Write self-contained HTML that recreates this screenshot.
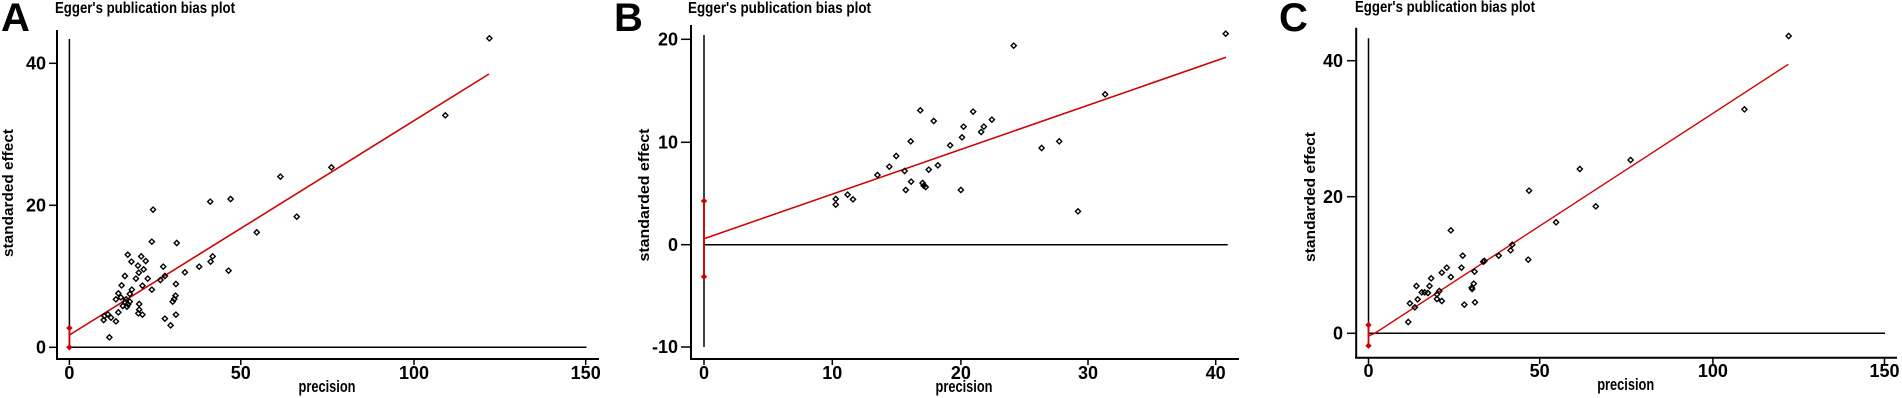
<!DOCTYPE html>
<html><head><meta charset="utf-8"><style>
html,body{margin:0;padding:0;background:#fff;}
svg{display:block;}
text{font-family:"Liberation Sans Narrow","Liberation Sans",sans-serif;font-weight:bold;fill:#000;}
.yl{font-family:"Liberation Sans",sans-serif;}
.big{font-family:"Liberation Sans",sans-serif;font-size:40px;}
</style></head><body>
<svg id="s" width="1902" height="398" viewBox="0 0 1902 398" xmlns="http://www.w3.org/2000/svg">
<!-- Panel A -->
<text class="big" x="1" y="31">A</text>
<text x="55" y="13" font-size="16" textLength="180" lengthAdjust="spacingAndGlyphs">Egger's publication bias plot</text>
<line x1="57" y1="30" x2="57" y2="359" stroke="#000" stroke-width="2"/>
<line x1="56" y1="359" x2="599" y2="359" stroke="#000" stroke-width="2"/>
<g stroke="#000" stroke-width="1.5">
<line x1="49" y1="63.3" x2="57" y2="63.3"/><line x1="49" y1="205.3" x2="57" y2="205.3"/><line x1="49" y1="347.3" x2="57" y2="347.3"/>
<line x1="69.4" y1="359" x2="69.4" y2="365"/><line x1="240.8" y1="359" x2="240.8" y2="365"/><line x1="414" y1="359" x2="414" y2="365"/><line x1="585.7" y1="359" x2="585.7" y2="365"/>
<line x1="69.4" y1="39" x2="69.4" y2="347.3"/><line x1="69.4" y1="347.3" x2="586.5" y2="347.3"/>
</g>
<g font-size="18" text-anchor="end"><text x="46" y="69.5">40</text><text x="46" y="211.5">20</text><text x="46" y="353.5">0</text></g>
<g font-size="18" text-anchor="middle"><text x="69.4" y="379">0</text><text x="240.8" y="379">50</text><text x="414" y="379">100</text><text x="585.7" y="379">150</text></g>
<text x="327" y="392" font-size="17" text-anchor="middle" textLength="57" lengthAdjust="spacingAndGlyphs">precision</text>
<text class="yl" transform="translate(13,193) rotate(-90)" font-size="15" text-anchor="middle" textLength="128" lengthAdjust="spacingAndGlyphs">standarded effect</text>
<line x1="69.4" y1="335" x2="489" y2="74" stroke="#d00000" stroke-width="1.6"/>
<line x1="69.4" y1="347.3" x2="69.4" y2="328" stroke="#d00000" stroke-width="1.8"/>

<!-- Panel B -->
<text class="big" x="614" y="31">B</text>
<text x="688" y="13" font-size="16" textLength="183" lengthAdjust="spacingAndGlyphs">Egger's publication bias plot</text>
<line x1="691" y1="25" x2="691" y2="359" stroke="#000" stroke-width="2"/>
<line x1="690" y1="359" x2="1239" y2="359" stroke="#000" stroke-width="2"/>
<g stroke="#000" stroke-width="1.5">
<line x1="681" y1="39.3" x2="691" y2="39.3"/><line x1="681" y1="142.3" x2="691" y2="142.3"/><line x1="681" y1="244.7" x2="691" y2="244.7"/><line x1="681" y1="347" x2="691" y2="347"/>
<line x1="704" y1="359" x2="704" y2="365"/><line x1="832.3" y1="359" x2="832.3" y2="365"/><line x1="960.9" y1="359" x2="960.9" y2="365"/><line x1="1088" y1="359" x2="1088" y2="365"/><line x1="1215.7" y1="359" x2="1215.7" y2="365"/>
<line x1="704" y1="35" x2="704" y2="347"/><line x1="704" y1="244.7" x2="1227.7" y2="244.7"/>
</g>
<g font-size="18" text-anchor="end"><text x="678" y="45.5">20</text><text x="678" y="148.5">10</text><text x="678" y="251">0</text><text x="678" y="353">-10</text></g>
<g font-size="18" text-anchor="middle"><text x="704" y="379">0</text><text x="832.3" y="379">10</text><text x="960.9" y="379">20</text><text x="1088" y="379">30</text><text x="1215.7" y="379">40</text></g>
<text x="964" y="392" font-size="17" text-anchor="middle" textLength="57" lengthAdjust="spacingAndGlyphs">precision</text>
<text class="yl" transform="translate(649,195) rotate(-90)" font-size="15" text-anchor="middle" textLength="133" lengthAdjust="spacingAndGlyphs">standarded effect</text>
<line x1="704" y1="238.7" x2="1226" y2="57.3" stroke="#d00000" stroke-width="1.6"/>
<line x1="704" y1="201" x2="704" y2="276.7" stroke="#d00000" stroke-width="1.8"/>

<!-- Panel C -->
<text class="big" x="1279" y="31">C</text>
<text x="1355" y="12" font-size="16" textLength="180" lengthAdjust="spacingAndGlyphs">Egger's publication bias plot</text>
<line x1="1356.2" y1="27.7" x2="1356.2" y2="357.7" stroke="#000" stroke-width="2"/>
<line x1="1355" y1="357.7" x2="1897" y2="357.7" stroke="#000" stroke-width="2"/>
<g stroke="#000" stroke-width="1.5">
<line x1="1347" y1="60.7" x2="1356" y2="60.7"/><line x1="1347" y1="196.7" x2="1356" y2="196.7"/><line x1="1347" y1="333.3" x2="1356" y2="333.3"/>
<line x1="1368.5" y1="357.7" x2="1368.5" y2="364"/><line x1="1539.7" y1="357.7" x2="1539.7" y2="364"/><line x1="1712.9" y1="357.7" x2="1712.9" y2="364"/><line x1="1884.5" y1="357.7" x2="1884.5" y2="364"/>
<line x1="1368.5" y1="38.3" x2="1368.5" y2="333.3"/><line x1="1368.5" y1="333.3" x2="1885" y2="333.3"/>
</g>
<g font-size="18" text-anchor="end"><text x="1343" y="67">40</text><text x="1343" y="203">20</text><text x="1343" y="339.5">0</text></g>
<g font-size="18" text-anchor="middle"><text x="1368.5" y="377">0</text><text x="1539.7" y="377">50</text><text x="1712.9" y="377">100</text><text x="1884.5" y="377">150</text></g>
<text x="1625.7" y="390" font-size="17" text-anchor="middle" textLength="57" lengthAdjust="spacingAndGlyphs">precision</text>
<text class="yl" transform="translate(1315,197) rotate(-90)" font-size="15" text-anchor="middle" textLength="130" lengthAdjust="spacingAndGlyphs">standarded effect</text>
<line x1="1374.7" y1="333.3" x2="1788.3" y2="64.3" stroke="#d00000" stroke-width="1.4"/>
<line x1="1368.5" y1="325" x2="1368.5" y2="345.7" stroke="#d00000" stroke-width="1.8"/>
<line x1="1368.5" y1="336" x2="1374.7" y2="333.3" stroke="#d00000" stroke-width="1.4"/>

<g id="pts" fill="none" stroke="#000" stroke-width="1.4"></g>
<g id="red" fill="#d00000" stroke="#d00000" stroke-width="1"></g>
</svg>
<script>
(function(){
var A=[[1199,115],[1091,346],[812,502],[687,530],[565,597],[515,605],[375,629],[727,650],[629,697],[372,725],[433,729],[313,764],[346,769],[357,783],[322,785],[338,797],[488,800],[400,800],[516,785],[521,769],[352,808],[560,812],[453,817],[306,828],[340,818],[333,836],[362,836],[404,828],[393,840],[298,856],[431,852],[349,857],[323,869],[372,869],[290,880],[318,882],[284,898],[296,892],[309,898],[314,913],[341,912],[301,918],[311,920],[290,937],[341,929],[349,944],[339,940],[430,887],[427,897],[423,905],[431,944],[404,956],[418,976],[256,948],[264,943],[254,960],[272,953],[284,964],[268,1012],[306,906],[318,905]];
var B=[[1290,137],[1529,283],[1046,331],[1184,335],[1081,363],[1233,359],[1212,380],[1159,380],[1205,396],[1155,412],[1021,424],[1124,436],[1409,424],[1363,444],[983,468],[965,500],[1092,496],[1005,513],[1068,509],[934,525],[1022,545],[1055,557],[1060,561],[1052,549],[1008,570],[1152,570],[856,584],[870,598],[825,597],[825,614],[1458,634]];
var C=[[1291,108],[1183,328],[905,480],[781,507],[657,572],[820,619],[723,667],[466,691],[616,734],[612,751],[583,767],[495,767],[655,779],[548,783],[545,785],[456,803],[492,803],[524,815],[444,818],[418,835],[466,831],[522,851],[517,863],[518,867],[382,858],[414,858],[395,877],[402,877],[410,879],[432,883],[438,873],[432,897],[444,903],[385,898],[366,910],[378,922],[525,907],[499,914],[362,966]];
var g=document.getElementById('pts'),ns='http://www.w3.org/2000/svg';
function d(x,y,r){var p=document.createElementNS(ns,'path');p.setAttribute('d','M'+x+' '+(y-r)+'L'+(x+r)+' '+y+'L'+x+' '+(y+r)+'L'+(x-r)+' '+y+'Z');return p;}
A.forEach(function(p){g.appendChild(d(p[0]/2.45,p[1]/3,2.6));});
B.forEach(function(p){g.appendChild(d(p[0]/2.613+520,p[1]/3,2.6));});
g.appendChild(d(1225.7,33.7,2.6));
C.forEach(function(p){g.appendChild(d(p[0]/2.442+1260,p[1]/3,2.6));});
var r=document.getElementById('red');
[[69.4,347.3],[69.4,328],[704,201],[704,276.7],[1368.5,325],[1368.5,345.7]].forEach(function(p){r.appendChild(d(p[0],p[1],2.5));});
})();
</script>
</body></html>
